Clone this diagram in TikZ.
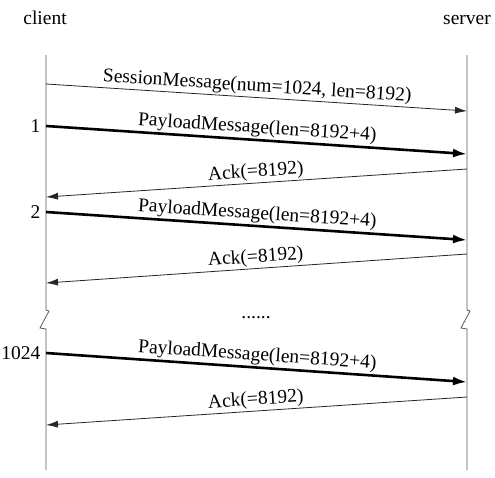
\documentclass[tikz,border=0pt]{standalone}
\usepackage{fontspec}
\setmainfont{Liberation Serif}
\usetikzlibrary{arrows.meta,positioning}
\tikzstyle{life} = [line width=0.8pt, black!65]
\tikzstyle{msg} = [line width=0.8pt, black!85, ->, >={Latex[length=12pt,width=7pt]}]
\tikzstyle{data} = [line width=2.6pt, ->, >={Latex[length=14pt,width=9pt]}]
\tikzstyle{lbl} = [midway, sloped, above, inner sep=1.5pt, text=black]
\begin{document}
\begin{tikzpicture}[x=1pt, y=-1pt, font=\fontsize{19.5}{23}\selectfont]
    \useasboundingbox (0,0) rectangle (495,477);
    % lifelines
    \coordinate (ctop) at (46,55);
    \coordinate (cbrk) at (46,310);
    \coordinate (cbot) at (46,470);
    \coordinate (stop) at (467,55);
    \coordinate (sbrk) at (467,310);
    \coordinate (sbot) at (467,470);
    \node [anchor=base] (client) at (45,24) {client};
    \node [anchor=base] (server) at (467,24) {server};
    \draw [life] (ctop) -- (cbrk) -- ++(3,1) -- ++(-9,17) -- ++(6,1) -- (cbot);
    \draw [life] (stop) -- (sbrk) -- ++(3,1) -- ++(-9,17) -- ++(6,1) -- (sbot);
    % message ends
    \coordinate (c1) at (46,84);   \coordinate (s1) at (467,111);
    \coordinate (c2) at (46,126);  \coordinate (s2) at (467,154);
    \coordinate (s3) at (467,169); \coordinate (c3) at (46,197);
    \coordinate (c4) at (46,212);  \coordinate (s4) at (467,240);
    \coordinate (s5) at (467,254); \coordinate (c5) at (46,283);
    \coordinate (c6) at (46,353);  \coordinate (s6) at (467,382);
    \coordinate (s7) at (467,397); \coordinate (c7) at (46,425);
    % messages
    \draw [msg] (c1) -- node [lbl] {SessionMessage(num=1024, len=8192)} (s1);
    \draw [data] (c2) -- node [lbl] {PayloadMessage(len=8192+4)} (s2);
    \draw [msg] (s3) -- node [lbl] {Ack(=8192)} (c3);
    \draw [data] (c4) -- node [lbl] {PayloadMessage(len=8192+4)} (s4);
    \draw [msg] (s5) -- node [lbl] {Ack(=8192)} (c5);
    \draw [data] (c6) -- node [lbl] {PayloadMessage(len=8192+4)} (s6);
    \draw [msg] (s7) -- node [lbl] {Ack(=8192)} (c7);
    % counters
    \node [left=2pt of c2] (n1) {1};
    \node [left=2pt of c4] (n2) {2};
    \node [left=2pt of c6] (n3) {1024};
    \node [anchor=base] (dots) at (256,318) {......};
\end{tikzpicture}
\end{document}
